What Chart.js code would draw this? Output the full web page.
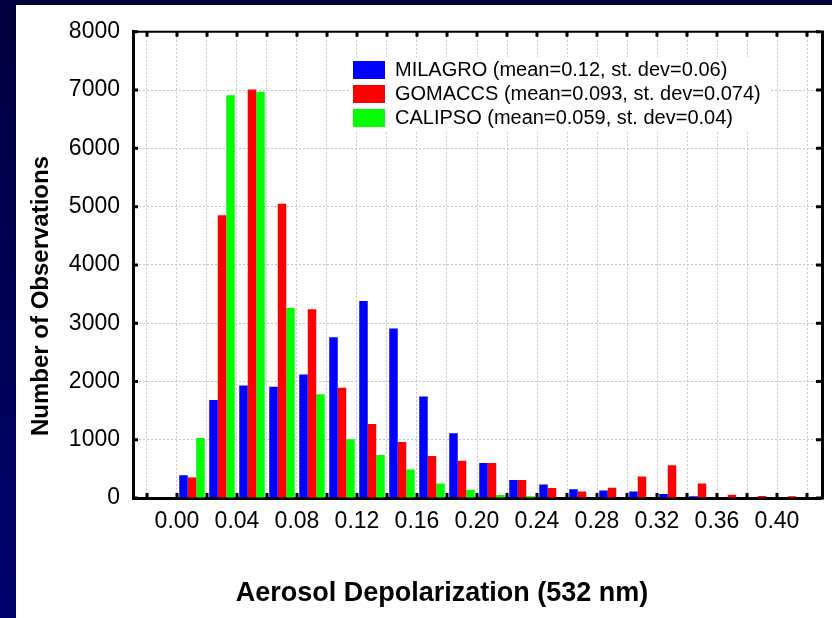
<!DOCTYPE html>
<html>
<head>
<meta charset="utf-8">
<script src="https://cdn.jsdelivr.net/npm/chart.js@4.4.0/dist/chart.umd.min.js"></script>
<style>
  html, body { margin: 0; padding: 0; }
  body { width: 832px; height: 618px; overflow: hidden; position: relative;
         background: linear-gradient(#00003e, #00006c); }
  #panel { position: absolute; left: 16px; top: 5px; width: 816px; height: 613px; background: #fff; }
  canvas { display: block; }
</style>
</head>
<body>
<div id="panel"><canvas id="chart" width="816" height="613"></canvas></div>
<script>
// histogram bins (centre of each 0.02 wide bin)
const binCenters = [-0.01, 0.01, 0.03, 0.05, 0.07, 0.09, 0.11, 0.13, 0.15, 0.17, 0.19,
                    0.21, 0.23, 0.25, 0.27, 0.29, 0.31, 0.33, 0.35, 0.37, 0.39, 0.41];

const milagro = [0, 390, 1680, 1930, 1910, 2120, 2760, 3380, 2910, 1740, 1110,
                 600, 310, 230, 150, 130, 110, 70, 30, 0, 0, 0];
const gomaccs = [0, 350, 4850, 7010, 5050, 3240, 1890, 1270, 960, 720, 640,
                 600, 310, 170, 110, 175, 370, 560, 250, 55, 35, 30];
const calipso = [0, 1030, 6910, 6970, 3260, 1780, 1010, 740, 490, 250, 140,
                 50, 30, 0, 0, 0, 0, 0, 0, 0, 0, 0];

const seriesNames = [
  'MILAGRO (mean=0.12, st. dev=0.06)',
  'GOMACCS (mean=0.093, st. dev=0.074)',
  'CALIPSO (mean=0.059, st. dev=0.04)'
];

const xTickValues = [-0.02, 0.00, 0.02, 0.04, 0.06, 0.08, 0.10, 0.12, 0.14, 0.16, 0.18, 0.20,
                     0.22, 0.24, 0.26, 0.28, 0.30, 0.32, 0.34, 0.36, 0.38, 0.40, 0.42];
const xTickLabels = ['', '0.00', '', '0.04', '', '0.08', '', '0.12', '', '0.16', '', '0.20',
                     '', '0.24', '', '0.28', '', '0.32', '', '0.36', '', '0.40', ''];
const yTickValues = [0, 1000, 2000, 3000, 4000, 5000, 6000, 7000, 8000];

const xTitle = 'Aerosol Depolarization (532 nm)';
const yTitle = 'Number of Observations';

const FONT = '"Liberation Sans", Arial, sans-serif';
Chart.defaults.font.family = FONT;
Chart.defaults.color = '#000';

function points(values) {
  return binCenters.map((x, i) => ({ x: x, y: values[i] }));
}

// moves the legend inside the plot and paints a white box under it
const legendBox = {
  id: 'legendBox',
  afterLayout(chart) {
    const lg = chart.legend;
    lg.left = 333;
    lg.top = 51;
    lg.right = lg.left + lg.width;
    lg.bottom = lg.top + lg.height;
  },
  afterDatasetsDraw(chart) {
    const ctx = chart.ctx;
    ctx.save();
    ctx.fillStyle = '#fff';
    ctx.fillRect(334, 52, 420, 74);
    ctx.restore();
    chart.legend.draw();
  }
};

// top/right frame, inward tick marks and axis titles
const frame = {
  id: 'frame',
  afterDraw(chart) {
    const { ctx, chartArea: a, scales } = chart;
    ctx.save();
    ctx.strokeStyle = '#000';
    ctx.lineWidth = 2;
    ctx.beginPath();
    ctx.moveTo(a.left, a.top);
    ctx.lineTo(a.right + 3, a.top);
    ctx.stroke();
    ctx.lineWidth = 3;
    ctx.beginPath();
    ctx.moveTo(a.right + 1.5, a.top - 1);
    ctx.lineTo(a.right + 1.5, a.bottom + 1.5);
    ctx.stroke();

    ctx.lineWidth = 3;
    ctx.beginPath();
    xTickValues.forEach(v => {
      const x = scales.x.getPixelForValue(v);
      ctx.moveTo(x, a.top);
      ctx.lineTo(x, a.top + 5);
      ctx.moveTo(x, a.bottom);
      ctx.lineTo(x, a.bottom - 5);
    });
    yTickValues.forEach(v => {
      const y = scales.y.getPixelForValue(v);
      ctx.moveTo(a.left, y);
      ctx.lineTo(a.left + 5, y);
      ctx.moveTo(a.right, y);
      ctx.lineTo(a.right - 5, y);
    });
    ctx.stroke();

    ctx.fillStyle = '#000';
    ctx.textAlign = 'center';
    ctx.textBaseline = 'middle';
    ctx.font = 'bold 27px ' + FONT;
    ctx.fillText(xTitle, 426, 589);
    ctx.translate(25, 291);
    ctx.rotate(-Math.PI / 2);
    ctx.font = 'bold 24px ' + FONT;
    ctx.fillText(yTitle, 0, 0);
    ctx.restore();
  }
};

new Chart(document.getElementById('chart'), {
  type: 'bar',
  data: {
    datasets: [
      { label: seriesNames[0], data: points(milagro), backgroundColor: '#0000ff' },
      { label: seriesNames[1], data: points(gomaccs), backgroundColor: '#ff0000' },
      { label: seriesNames[2], data: points(calipso), backgroundColor: '#00ff00' }
    ]
  },
  options: {
    responsive: false,
    animation: false,
    events: [],
    layout: { padding: { left: 0, top: 23, right: 11, bottom: 0 } },
    datasets: { bar: { categoryPercentage: 0.85, barPercentage: 1.0, borderWidth: 0 } },
    scales: {
      x: {
        type: 'linear',
        offset: false,
        min: -0.029333,
        max: 0.429333,
        afterBuildTicks: s => { s.ticks = xTickValues.map(v => ({ value: v })); },
        afterFit: s => { s.height = 120; },
        grid: { offset: false, color: '#c4c4c4', lineWidth: 1, drawTicks: false },
        border: { color: '#000', width: 3, dash: [2, 2] },
        ticks: {
          autoSkip: false, maxRotation: 0, minRotation: 0, padding: 10,
          font: { size: 23 },
          callback: (v, i) => xTickLabels[i]
        }
      },
      y: {
        min: 0,
        max: 8000,
        afterBuildTicks: s => { s.ticks = yTickValues.map(v => ({ value: v })); },
        afterFit: s => { s.width = 117; },
        grid: { color: '#c4c4c4', lineWidth: 1, drawTicks: false },
        border: { color: '#000', width: 3, dash: [2, 2] },
        ticks: { padding: 13, font: { size: 23 }, callback: v => String(v) }
      }
    },
    plugins: {
      tooltip: { enabled: false },
      legend: {
        position: 'chartArea',
        align: 'start',
        labels: {
          boxWidth: 32, boxHeight: 18, padding: 4,
          color: '#000', font: { size: 20 }
        }
      }
    }
  },
  plugins: [legendBox, frame]
});
</script>
</body>
</html>
